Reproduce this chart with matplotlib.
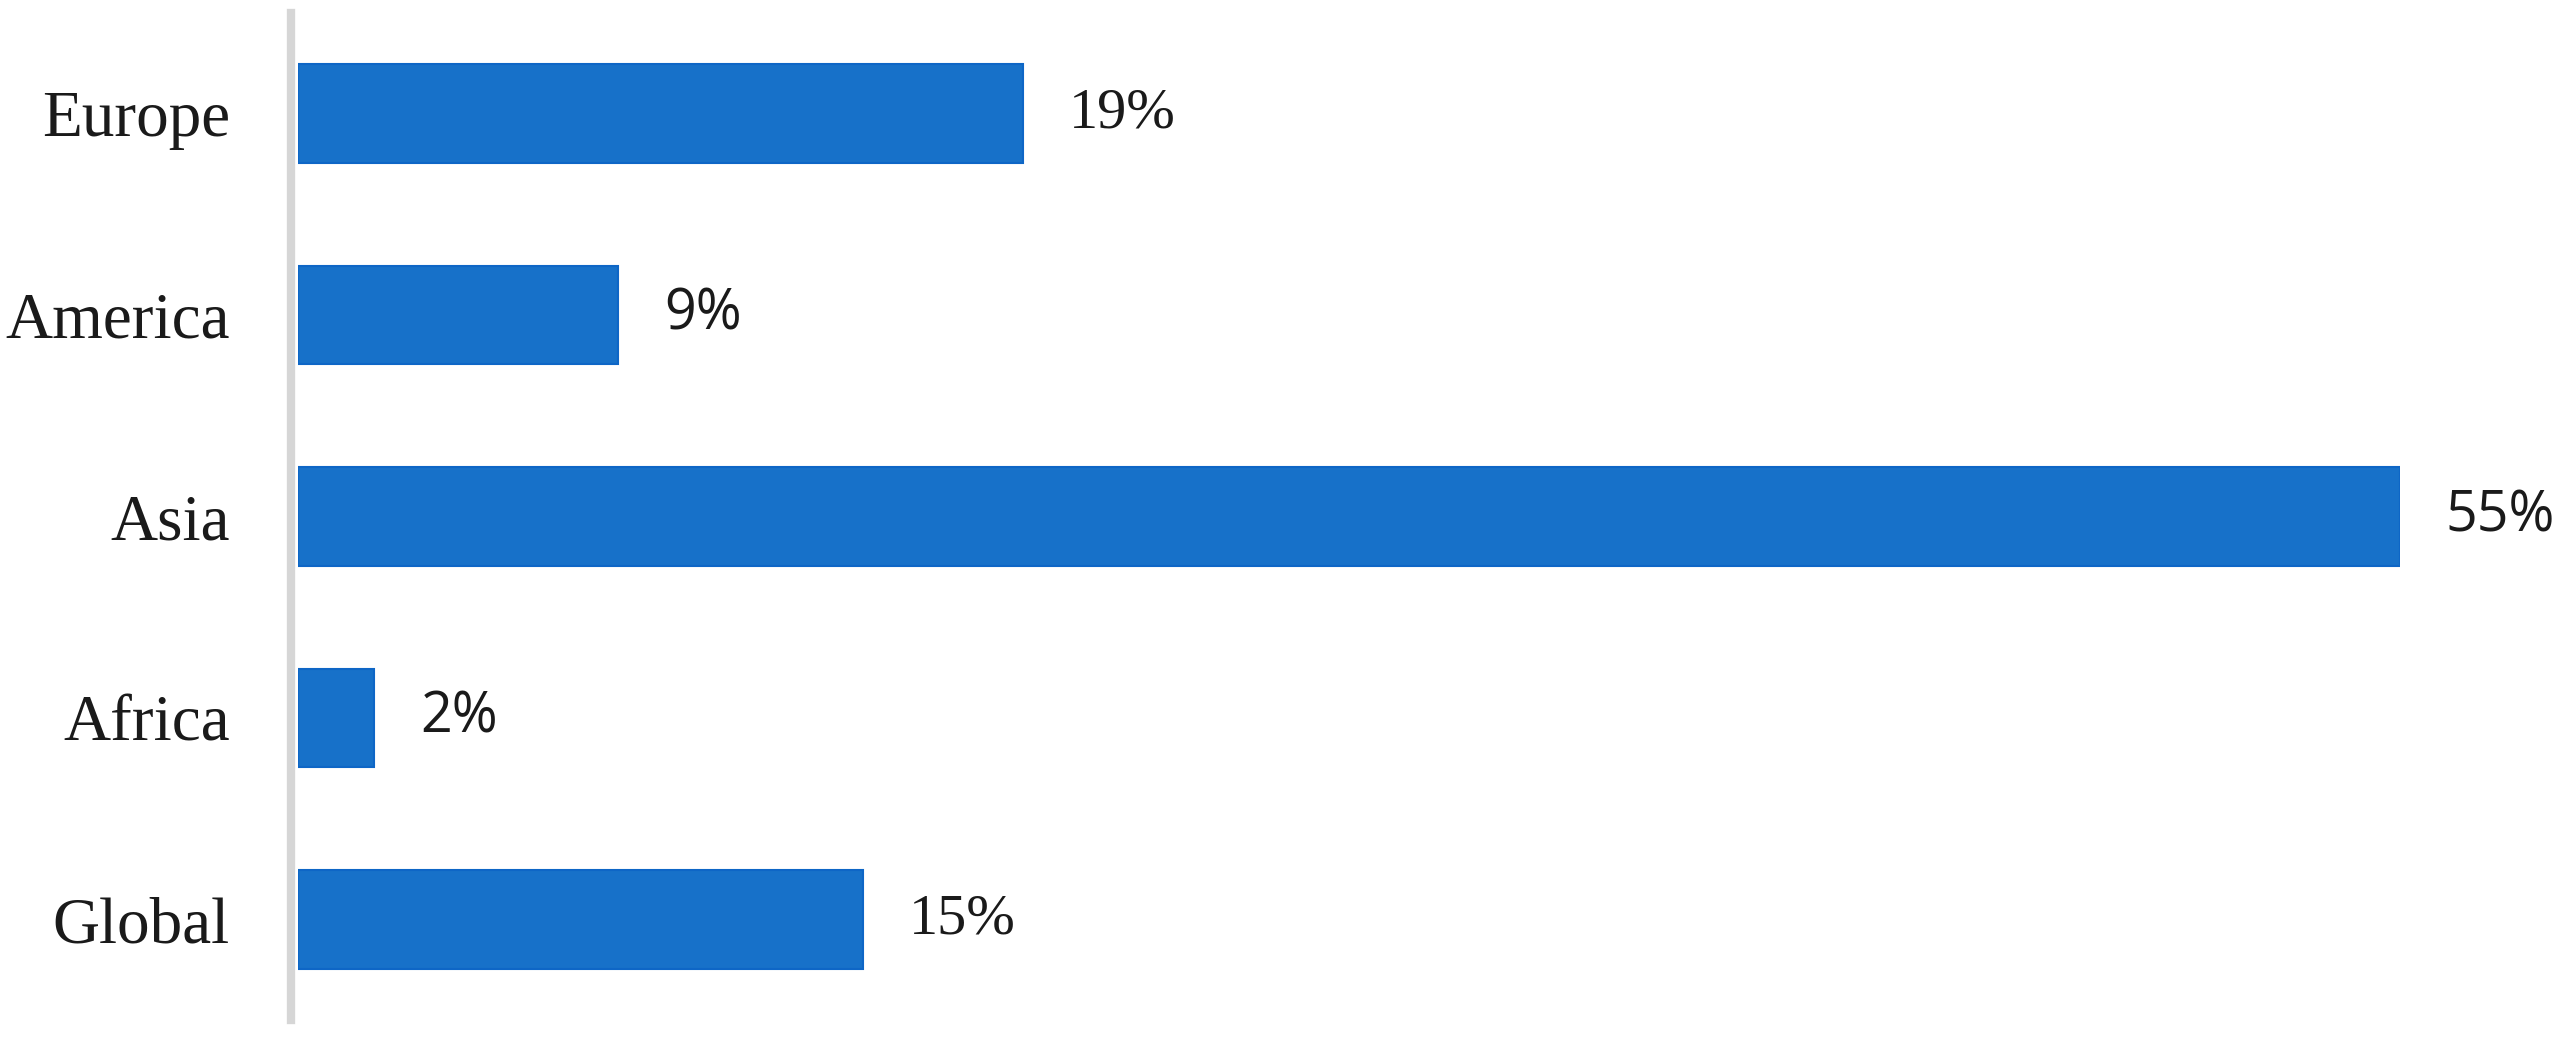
import matplotlib.pyplot as plt

# regions, top to bottom
regions = ["Europe", "America", "Asia", "Africa", "Global"]
# bar lengths in percent
shares = [19.0, 8.4, 55.1, 2.0, 14.8]
share_labels = ["19%", "9%", "55%", "2%", "15%"]


def main():
    fig = plt.figure(figsize=(25.72, 10.4), dpi=100)
    ax = fig.add_axes([298 / 2572, 20 / 1040, 2102 / 2572, 1007 / 1040])

    positions = list(range(len(regions)))
    ax.barh(positions, shares, height=0.49, color="#1771C9",
            edgecolor="#0E66C6", linewidth=1.5, zorder=3)

    ax.set_xlim(0, 55.1)
    ax.set_ylim(len(regions) - 0.5, -0.5)

    ax.set_xticks([])
    ax.set_yticks(positions)
    ax.set_yticklabels(regions)
    ax.tick_params(axis="y", length=0, pad=44, labelsize=47,
                   labelcolor="#1a1a1a", labelfontfamily="Liberation Serif")

    for side in ["top", "right", "bottom"]:
        ax.spines[side].set_visible(False)
    ax.spines["left"].set_color("#d6d6d6")
    ax.spines["left"].set_linewidth(6)
    ax.spines["left"].set_position(("outward", 5))

    # the value labels switch between a serif and a sans face in the original
    label_fonts = ["Liberation Serif", "Open Sans", "Open Sans",
                   "Open Sans", "Liberation Serif"]
    for pos, value, text, font in zip(positions, shares, share_labels, label_fonts):
        ax.annotate(text, xy=(value, pos), xytext=(33, 0),
                    textcoords="offset points", va="center", ha="left",
                    fontsize=42 if font == "Liberation Serif" else 40,
                    family=font, color="#1a1a1a", annotation_clip=False)

    fig.savefig("out.png", dpi=100, facecolor="white")
    plt.close(fig)


if __name__ == "__main__":
    main()
